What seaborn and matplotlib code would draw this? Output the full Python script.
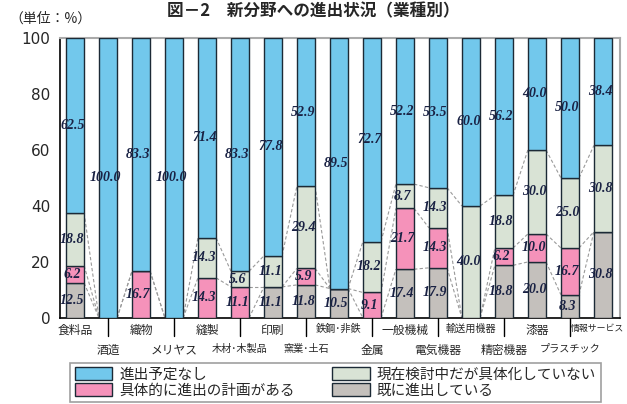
import numpy as np
import pandas as pd
import matplotlib
matplotlib.use("Agg")
import matplotlib.pyplot as plt
import matplotlib.transforms as mtrans
from matplotlib.patches import Patch
import seaborn as sns

categories = ["食料品", "酒造", "織物", "メリヤス", "縫製", "木材･木製品", "印刷", "窯業･土石",
              "鉄鋼･非鉄", "金属", "一般機械", "電気機器", "輸送用機器", "精密機器", "漆器",
              "プラスチック", "情報サービス"]
already = [12.5, 0, 0, 0, 0, 0, 11.1, 11.8, 10.5, 0, 17.4, 17.9, 0, 18.8, 20.0, 8.3, 30.8]
planned = [6.2, 0, 16.7, 0, 14.3, 11.1, 0, 5.9, 0, 9.1, 21.7, 14.3, 0, 6.2, 10.0, 16.7, 0]
studying = [18.8, 0, 0, 0, 14.3, 5.6, 11.1, 29.4, 0, 18.2, 8.7, 14.3, 40.0, 18.8, 30.0, 25.0, 30.8]
none_ = [62.5, 100.0, 83.3, 100.0, 71.4, 83.3, 77.8, 52.9, 89.5, 72.7, 52.2, 53.5, 60.0, 56.2, 40.0, 50.0, 38.4]

series_names = ["既に進出している", "具体的に進出の計画がある", "現在検討中だが具体化していない", "進出予定なし"]
colors = {"既に進出している": "#c4c0bc", "具体的に進出の計画がある": "#f592ba",
          "現在検討中だが具体化していない": "#d9e3d5", "進出予定なし": "#72c8ec"}
yticks = [0, 20, 40, 60, 80, 100]

sns.set_style("white")
plt.rcParams['font.family'] = ['Noto Sans CJK JP', 'DejaVu Sans']

fig = plt.figure(figsize=(6.27, 4.04), dpi=100)
ax = fig.add_axes([0.096, 0.213, 0.893, 0.693])

values = [already, planned, studying, none_]
df = pd.DataFrame({"cat": categories})
bottom = np.zeros(len(categories))
edge = "#1c2a36"
bw = 0.55
boundaries = []
for name, vals in zip(series_names, values):
    v = np.array(vals)
    df["v"] = v
    sns.barplot(data=df, x="cat", y="v", order=categories, bottom=bottom, color=colors[name],
                width=bw, edgecolor=edge, linewidth=1.0, saturation=1, ax=ax, zorder=3)
    for i, (b, val) in enumerate(zip(bottom, v)):
        if val > 0:
            ax.text(i - 0.08, b + val / 2, f"{val:.1f}", ha="center", va="center",
                    fontfamily="Liberation Serif", fontstyle="italic", fontweight="bold",
                    fontsize=10, color="#1a2244", zorder=5)
    bottom = bottom + v
    boundaries.append(bottom.copy())

# series lines connecting segment boundaries
for bnd in boundaries[:3]:
    for i in range(len(categories) - 1):
        ax.plot([i + bw / 2, i + 1 - bw / 2], [bnd[i], bnd[i + 1]], color="#9a9a9a",
                lw=0.8, ls=(0, (3, 2)), zorder=2)

ax.set_xlim(-0.45, 16.52)
ax.set_ylim(0, 100)
ax.set_yticks(yticks)
ax.set_yticklabels([str(t) for t in yticks], fontfamily="DejaVu Sans", fontsize=11)
ax.tick_params(axis="y", direction="out", length=5, width=1, color="black", pad=2)
ax.set_xticks([])
ax.set_xlabel("")
ax.set_ylabel("")
for s in ["left", "bottom"]:
    ax.spines[s].set_color("black")
    ax.spines[s].set_linewidth(1.2)
for s in ["top", "right"]:
    ax.spines[s].set_color("#aaaaaa")
    ax.spines[s].set_linewidth(1.5)

trans = mtrans.blended_transform_factory(ax.transData, ax.transAxes)
for i, c in enumerate(categories):
    fs = 8.5 if len(c) <= 4 else 7.3
    xpos = i
    if i == len(categories) - 1:
        fs = 6.4
        xpos = i - 0.17
    if i % 2 == 0:
        ax.text(xpos, -0.022, c, transform=trans, ha="center", va="top", fontsize=fs, clip_on=False)
    else:
        ax.plot([i, i], [0, -0.065], transform=trans, color="black", lw=1, clip_on=False)
        ax.text(xpos, -0.092, c, transform=trans, ha="center", va="top", fontsize=fs, clip_on=False)

fig.text(0.015, 0.955, "（単位：%）", fontsize=10, ha="left", va="center")
fig.text(0.50, 0.995, "図－2　新分野への進出状況（業種別）", fontsize=12, fontweight="bold",
         ha="center", va="top")

handles = [Patch(facecolor=colors["進出予定なし"], edgecolor=edge, label="進出予定なし"),
           Patch(facecolor=colors["具体的に進出の計画がある"], edgecolor=edge, label="具体的に進出の計画がある"),
           Patch(facecolor=colors["現在検討中だが具体化していない"], edgecolor=edge, label="現在検討中だが具体化していない"),
           Patch(facecolor=colors["既に進出している"], edgecolor=edge, label="既に進出している")]
leg = fig.legend(handles=handles, ncol=2, loc="upper center", bbox_to_anchor=(0.535, 0.12),
                 fontsize=10.5, frameon=True, fancybox=False, edgecolor="#888888",
                 handlelength=2.6, handleheight=1.0, columnspacing=2.5, labelspacing=0.1,
                 borderpad=0.3, handletextpad=0.5)
leg.get_frame().set_linewidth(1.2)

fig.savefig("out.png", dpi=100)
